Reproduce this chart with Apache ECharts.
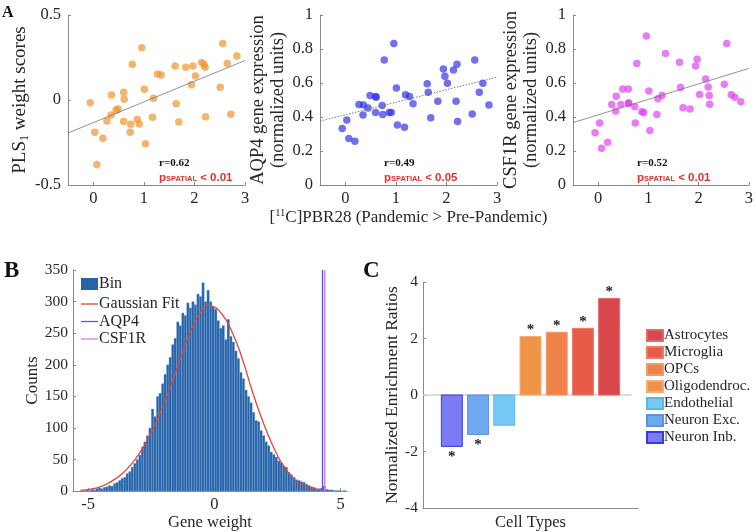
<!DOCTYPE html>
<html><head><meta charset="utf-8">
<script src="https://cdn.jsdelivr.net/npm/echarts@6/dist/echarts.min.js"></script>
<style>html,body{margin:0;padding:0;background:#fff}#c{width:756px;height:532px}</style>
</head><body><div id="c"></div>
<script>
// ---------- Panel A data ----------
const pbr28 = [-0.06,0.03,0.07,0.19,0.27,0.35,0.36,0.45,0.49,0.60,0.61,0.60,0.73,0.74,0.77,0.87,0.91,0.96,1.01,1.03,1.17,1.19,1.27,1.34,1.62,1.64,1.69,1.83,1.94,1.97,2.02,2.14,2.19,2.21,2.22,2.51,2.56,2.65,2.72,2.84];
const pls1 = [-0.016,-0.19,-0.38,-0.225,-0.124,-0.088,0.03,-0.059,-0.053,0.045,0.004,-0.127,-0.19,-0.143,0.21,-0.114,-0.141,0.308,0.063,-0.257,-0.102,0.01,0.153,0.147,0.2,-0.022,-0.129,0.192,0.09,0.2,0.141,0.22,0.21,0.192,-0.098,0.075,0.333,0.214,-0.084,0.259];
const aqp4 = [0.333,0.382,0.273,0.257,0.473,0.412,0.47,0.453,0.527,0.52,0.516,0.427,0.467,0.414,0.735,0.427,0.427,0.833,0.57,0.353,0.339,0.531,0.52,0.478,0.596,0.545,0.396,0.492,0.682,0.639,0.598,0.676,0.492,0.71,0.373,0.418,0.735,0.545,0.598,0.47];
const csf1r = [0.308,0.365,0.216,0.251,0.473,0.435,0.522,0.473,0.565,0.565,0.484,0.48,0.461,0.365,0.714,0.431,0.427,0.876,0.553,0.32,0.414,0.508,0.527,0.773,0.722,0.573,0.455,0.447,0.7,0.739,0.533,0.624,0.576,0.527,0.475,0.592,0.833,0.531,0.516,0.49];
const fitPLS = [[-0.5,-0.194],[3,0.232]];
const fitAQP4 = [[-0.5,0.376],[3,0.634]];
const fitCSF1R = [[-0.5,0.367],[3,0.686]];
const rLabels = ['r=0.62','r=0.49','r=0.52'];
const pLabels = ['< 0.01','< 0.05','< 0.01'];
const aXTicks = [0,1,2,3];
const plsYTicks = [-0.5,0,0.5];

// ---------- Panel B data ----------
const histStart = -5.3, histBinWidth = 0.1;
const histCounts = [1,0,2,1,3,2,4,5,4,6,
  7,9,8,12,14,17,20,22,28,31,
  38,44,50,57,70,78,88,100,130,118,
  150,155,170,185,200,212,232,242,268,262,
  282,278,298,290,300,295,312,308,330,300,
  318,300,292,288,270,258,262,240,272,245,
  236,222,210,188,178,160,150,140,125,112,
  110,96,88,78,72,62,58,54,48,45,
  40,38,30,26,22,18,17,15,14,11,
  9,7,6,4,4,5,8,3,2,2,
  1,1,1,0,1];
const gaussX = [-5.3,-4.9,-4.5,-4.1,-3.7,-3.3,-2.9,-2.5,-2.1,-1.7,-1.3,-0.9,-0.5,-0.3,-0.1,0.3,0.7,1.1,1.5,1.9,2.3,2.7,3.1,3.5,3.9,4.35];
const gaussY = [1,3,7,15,26,42,64,92,128,170,215,257,286,294,293,280,252,210,158,112,73,42,21,9,4,1.5];
const aqp4Weight = 4.28, csf1rWeight = 4.37, countsTop = 350;
const bXTicks = [-5,0,5];

// ---------- Panel C data ----------
const cellTypes = ['Neuron Inb.','Neuron Exc.','Endothelial','Oligodendroc.','OPCs','Microglia','Astrocytes'];
const enrichment = [-1.82,-1.40,-1.07,2.07,2.22,2.36,3.42];
const significant = [1,1,0,1,1,1,1];
const zeroLine = [[-0.1,0],[7.85,0]];

// ---------- styles ----------
const SERIF = '"Liberation Serif", "DejaVu Serif", serif';
const AX = '#8a8a8a', TXT = '#262626';
const barColors = ['#7b7bf2','#6fa7f0','#76c8f7','#ef9347','#ee8249','#e85b48','#d8474b'];
const barBorders = ['#3a3ad6','#5d93dd','#5fb5ea','#f4ad78','#f39a6c','#ef7a6a','#e0676a'];
const lineColors = {gauss:'#e0453a', aqp4:'#5a5ae8', csf1r:'#d978ef'};

const chart = echarts.init(document.getElementById('c'), null, {renderer:'canvas'});

function baseAxis(){
  return {
    type:'value',
    axisLine:{show:true, onZero:false, lineStyle:{color:AX, width:1}},
    axisTick:{show:true, inside:true, length:3, lineStyle:{color:AX}},
    axisLabel:{fontFamily:SERIF, fontSize:16.5, color:TXT, margin:7},
    splitLine:{show:false},
    nameTextStyle:{fontFamily:SERIF, color:TXT}
  };
}
function merge(a, b){ const o = Object.assign({}, a); for (const k in b){ if (b[k] && typeof b[k]==='object' && !Array.isArray(b[k]) && o[k] && typeof o[k]==='object') o[k]=Object.assign({}, o[k], b[k]); else o[k]=b[k]; } return o; }
function axis(extra){ return merge(baseAxis(), extra); }

const grids = [
  {left:68, top:15, width:177, height:170},
  {left:320, top:15, width:177, height:170},
  {left:573, top:15, width:177, height:170},
  {left:73, top:270, width:274, height:223},
  {left:423, top:282, width:215, height:226}
];

const xAxes = [0,1,2].map(g => axis({gridIndex:g, min:-0.5, max:3,
  axisTick:{customValues:aXTicks}, axisLabel:{customValues:aXTicks, margin:5},
  name: g===1 ? '[{sup|11}C]PBR28 (Pandemic > Pre-Pandemic)' : '',
  nameLocation:'middle', nameGap:21,
  nameTextStyle:{fontSize:17, rich:{sup:{fontSize:10.5, fontFamily:SERIF, color:TXT, padding:[0,0,8,0]}}}
}));
xAxes.push(axis({gridIndex:3, min:-5.6, max:5.25,
  axisTick:{customValues:bXTicks}, axisLabel:{customValues:bXTicks, margin:5},
  name:'Gene weight', nameLocation:'middle', nameGap:22, nameTextStyle:{fontSize:16.5}}));
xAxes.push(axis({gridIndex:4, min:-0.1, max:8.1, axisTick:{show:false}, axisLabel:{show:false},
  name:'Cell Types', nameLocation:'middle', nameGap:6, nameTextStyle:{fontSize:16.5}}));

const yAxes = [
  axis({gridIndex:0, min:-0.5, max:0.5, axisTick:{customValues:plsYTicks}, axisLabel:{customValues:plsYTicks},
    name:'PLS{sub|1} weight scores', nameLocation:'middle', nameGap:37,
    nameTextStyle:{fontSize:19, rich:{sub:{fontSize:12, fontFamily:SERIF, color:TXT, padding:[9,0,0,0]}}}}),
  axis({gridIndex:1, min:0, max:1, interval:0.2,
    name:'AQP4 gene expression\n(normalized units)', nameLocation:'middle', nameGap:29,
    nameTextStyle:{fontSize:18.5, lineHeight:20}}),
  axis({gridIndex:2, min:0, max:1, interval:0.2,
    name:'CSF1R gene expression\n(normalized units)', nameLocation:'middle', nameGap:31,
    nameTextStyle:{fontSize:18.5, lineHeight:20}}),
  axis({gridIndex:3, min:0, max:countsTop, interval:50, axisLabel:{fontSize:15.5, margin:5},
    name:'Counts', nameLocation:'middle', nameGap:31, nameTextStyle:{fontSize:17}}),
  axis({gridIndex:4, min:-4, max:4, interval:2, axisLabel:{fontSize:15.5, margin:5},
    name:'Normalized Enrichment Ratios', nameLocation:'middle', nameGap:18, nameTextStyle:{fontSize:17.5}})
];

const scatterCommon = {type:'scatter', symbolSize:7.5, silent:true, z:3};
const fitCommon = {type:'line', symbol:'none', silent:true, z:4};

const series = [
  Object.assign({}, scatterCommon, {xAxisIndex:0, yAxisIndex:0, data:pbr28.map((x,i)=>[x,pls1[i]]), itemStyle:{color:'rgb(240,148,48)', opacity:0.7}}),
  Object.assign({}, scatterCommon, {xAxisIndex:1, yAxisIndex:1, data:pbr28.map((x,i)=>[x,aqp4[i]]), itemStyle:{color:'rgb(45,45,228)', opacity:0.68}}),
  Object.assign({}, scatterCommon, {xAxisIndex:2, yAxisIndex:2, data:pbr28.map((x,i)=>[x,csf1r[i]]), itemStyle:{color:'rgb(222,60,240)', opacity:0.68}}),
  Object.assign({}, fitCommon, {xAxisIndex:0, yAxisIndex:0, data:fitPLS, lineStyle:{color:'#777', width:0.8}}),
  Object.assign({}, fitCommon, {xAxisIndex:1, yAxisIndex:1, data:fitAQP4, lineStyle:{color:'#666', width:0.9, type:[1.5,1.5]}}),
  Object.assign({}, fitCommon, {xAxisIndex:2, yAxisIndex:2, data:fitCSF1R, lineStyle:{color:'#777', width:0.8}}),
  {
    type:'custom', name:'Bin', xAxisIndex:3, yAxisIndex:3, silent:true,
    itemStyle:{color:'#2663a8'},
    data: histCounts.map((c,i)=>[histStart+i*histBinWidth, histStart+(i+1)*histBinWidth, c]),
    encode:{x:[0,1], y:2},
    renderItem:(params, api)=>{
      const p0 = api.coord([api.value(0), api.value(2)]);
      const p1 = api.coord([api.value(1), 0]);
      return {type:'rect', shape:{x:p0[0], y:p0[1], width:p1[0]-p0[0], height:p1[1]-p0[1]},
        style:{fill:'#2663a8', stroke:'rgba(150,185,225,0.55)', lineWidth:0.5}};
    }
  },
  {type:'line', name:'Gaussian Fit', xAxisIndex:3, yAxisIndex:3, symbol:'none', smooth:0.5, silent:true, z:5,
    data:gaussX.map((x,i)=>[x,gaussY[i]]), lineStyle:{color:lineColors.gauss, width:1.3}, itemStyle:{color:lineColors.gauss}},
  {type:'line', name:'AQP4', xAxisIndex:3, yAxisIndex:3, symbol:'none', silent:true, z:5,
    data:[[aqp4Weight,0],[aqp4Weight,countsTop]], lineStyle:{color:lineColors.aqp4, width:1.4}, itemStyle:{color:lineColors.aqp4}},
  {type:'line', name:'CSF1R', xAxisIndex:3, yAxisIndex:3, symbol:'none', silent:true, z:5,
    data:[[csf1rWeight,0],[csf1rWeight,countsTop]], lineStyle:{color:lineColors.csf1r, width:1.4}, itemStyle:{color:lineColors.csf1r}},
  {type:'line', xAxisIndex:4, yAxisIndex:4, symbol:'none', silent:true, z:1,
    data:zeroLine, lineStyle:{color:'#cfcfcf', width:1.5}}
];

cellTypes.forEach((name,i)=>{
  series.push({
    type:'custom', name:name, xAxisIndex:4, yAxisIndex:4, silent:true, z:3,
    itemStyle:{color:barColors[i], borderColor:barBorders[i], borderWidth:1},
    data:[[i+1, enrichment[i], significant[i]]],
    encode:{x:0, y:1},
    renderItem:(params, api)=>{
      const x = api.value(0), v = api.value(1);
      const a = api.coord([x-0.4, Math.max(v,0)]);
      const b = api.coord([x+0.4, Math.min(v,0)]);
      const children = [{type:'rect', shape:{x:a[0], y:a[1], width:b[0]-a[0], height:b[1]-a[1]},
        style:{fill:barColors[i], stroke:barBorders[i], lineWidth:1}}];
      if (api.value(2)) {
        const s = api.coord([x, v]);
        children.push({type:'text', x:s[0], y:s[1] + (v>0 ? -6 : 11),
          style:{text:'*', font:'bold 15px '+SERIF, fill:'#222', align:'center', verticalAlign:'middle'}});
      }
      return {type:'group', children:children};
    }
  });
});

function pText(i){
  return '{p|p}{s|SPATIAL}{p| ' + pLabels[i] + '}';
}
const pRich = {p:{fontSize:11.5, fontWeight:'bold', fontFamily:'"Liberation Sans", sans-serif', fill:'#e0322c'},
               s:{fontSize:7.5, fontWeight:'bold', fontFamily:'"Liberation Sans", sans-serif', fill:'#e0322c', padding:[2,0,0,0]}};
const annLeft = [159, 384, 637];
const graphic = [
  {type:'text', left:2, top:5, style:{text:'A', font:'bold 16px '+SERIF, fill:'#111'}},
  {type:'text', left:4, top:260, style:{text:'B', font:'bold 23px '+SERIF, fill:'#111'}},
  {type:'text', left:363, top:260, style:{text:'C', font:'bold 23px '+SERIF, fill:'#111'}}
];
annLeft.forEach((x,i)=>{
  graphic.push({type:'text', x:x, y:163, style:{text:rLabels[i], font:'bold 11px '+SERIF, fill:'#111', verticalAlign:'middle'}});
  graphic.push({type:'text', x:x, y:177.5, style:{text:pText(i), rich:pRich, verticalAlign:'middle'}});
});

chart.setOption({
  animation:false,
  backgroundColor:'#fff',
  grid:grids,
  xAxis:xAxes,
  yAxis:yAxes,
  series:series,
  legend:[
    {left:76, top:271, orient:'vertical', itemWidth:17, itemHeight:12, selectedMode:false,
     textStyle:{fontFamily:SERIF, fontSize:16, color:TXT, padding:[0,0,0,-4]},
     data:[{name:'Bin', icon:'rect'}]},
    {left:76, top:291, orient:'vertical', itemWidth:17, itemHeight:1.3, itemGap:1.5, selectedMode:false, icon:'rect',
     textStyle:{fontFamily:SERIF, fontSize:16, color:TXT, padding:[0,0,0,-4]},
     data:['Gaussian Fit', 'AQP4', 'CSF1R']},
    {left:641, top:323, orient:'vertical', itemWidth:16, itemHeight:11, itemGap:2, selectedMode:false,
     textStyle:{fontFamily:SERIF, fontSize:15, color:TXT, padding:[0,0,0,-4]},
     data:cellTypes.slice().reverse().map(n=>({name:n, icon:'rect'}))}
  ],
  graphic:graphic
});
</script></body></html>
